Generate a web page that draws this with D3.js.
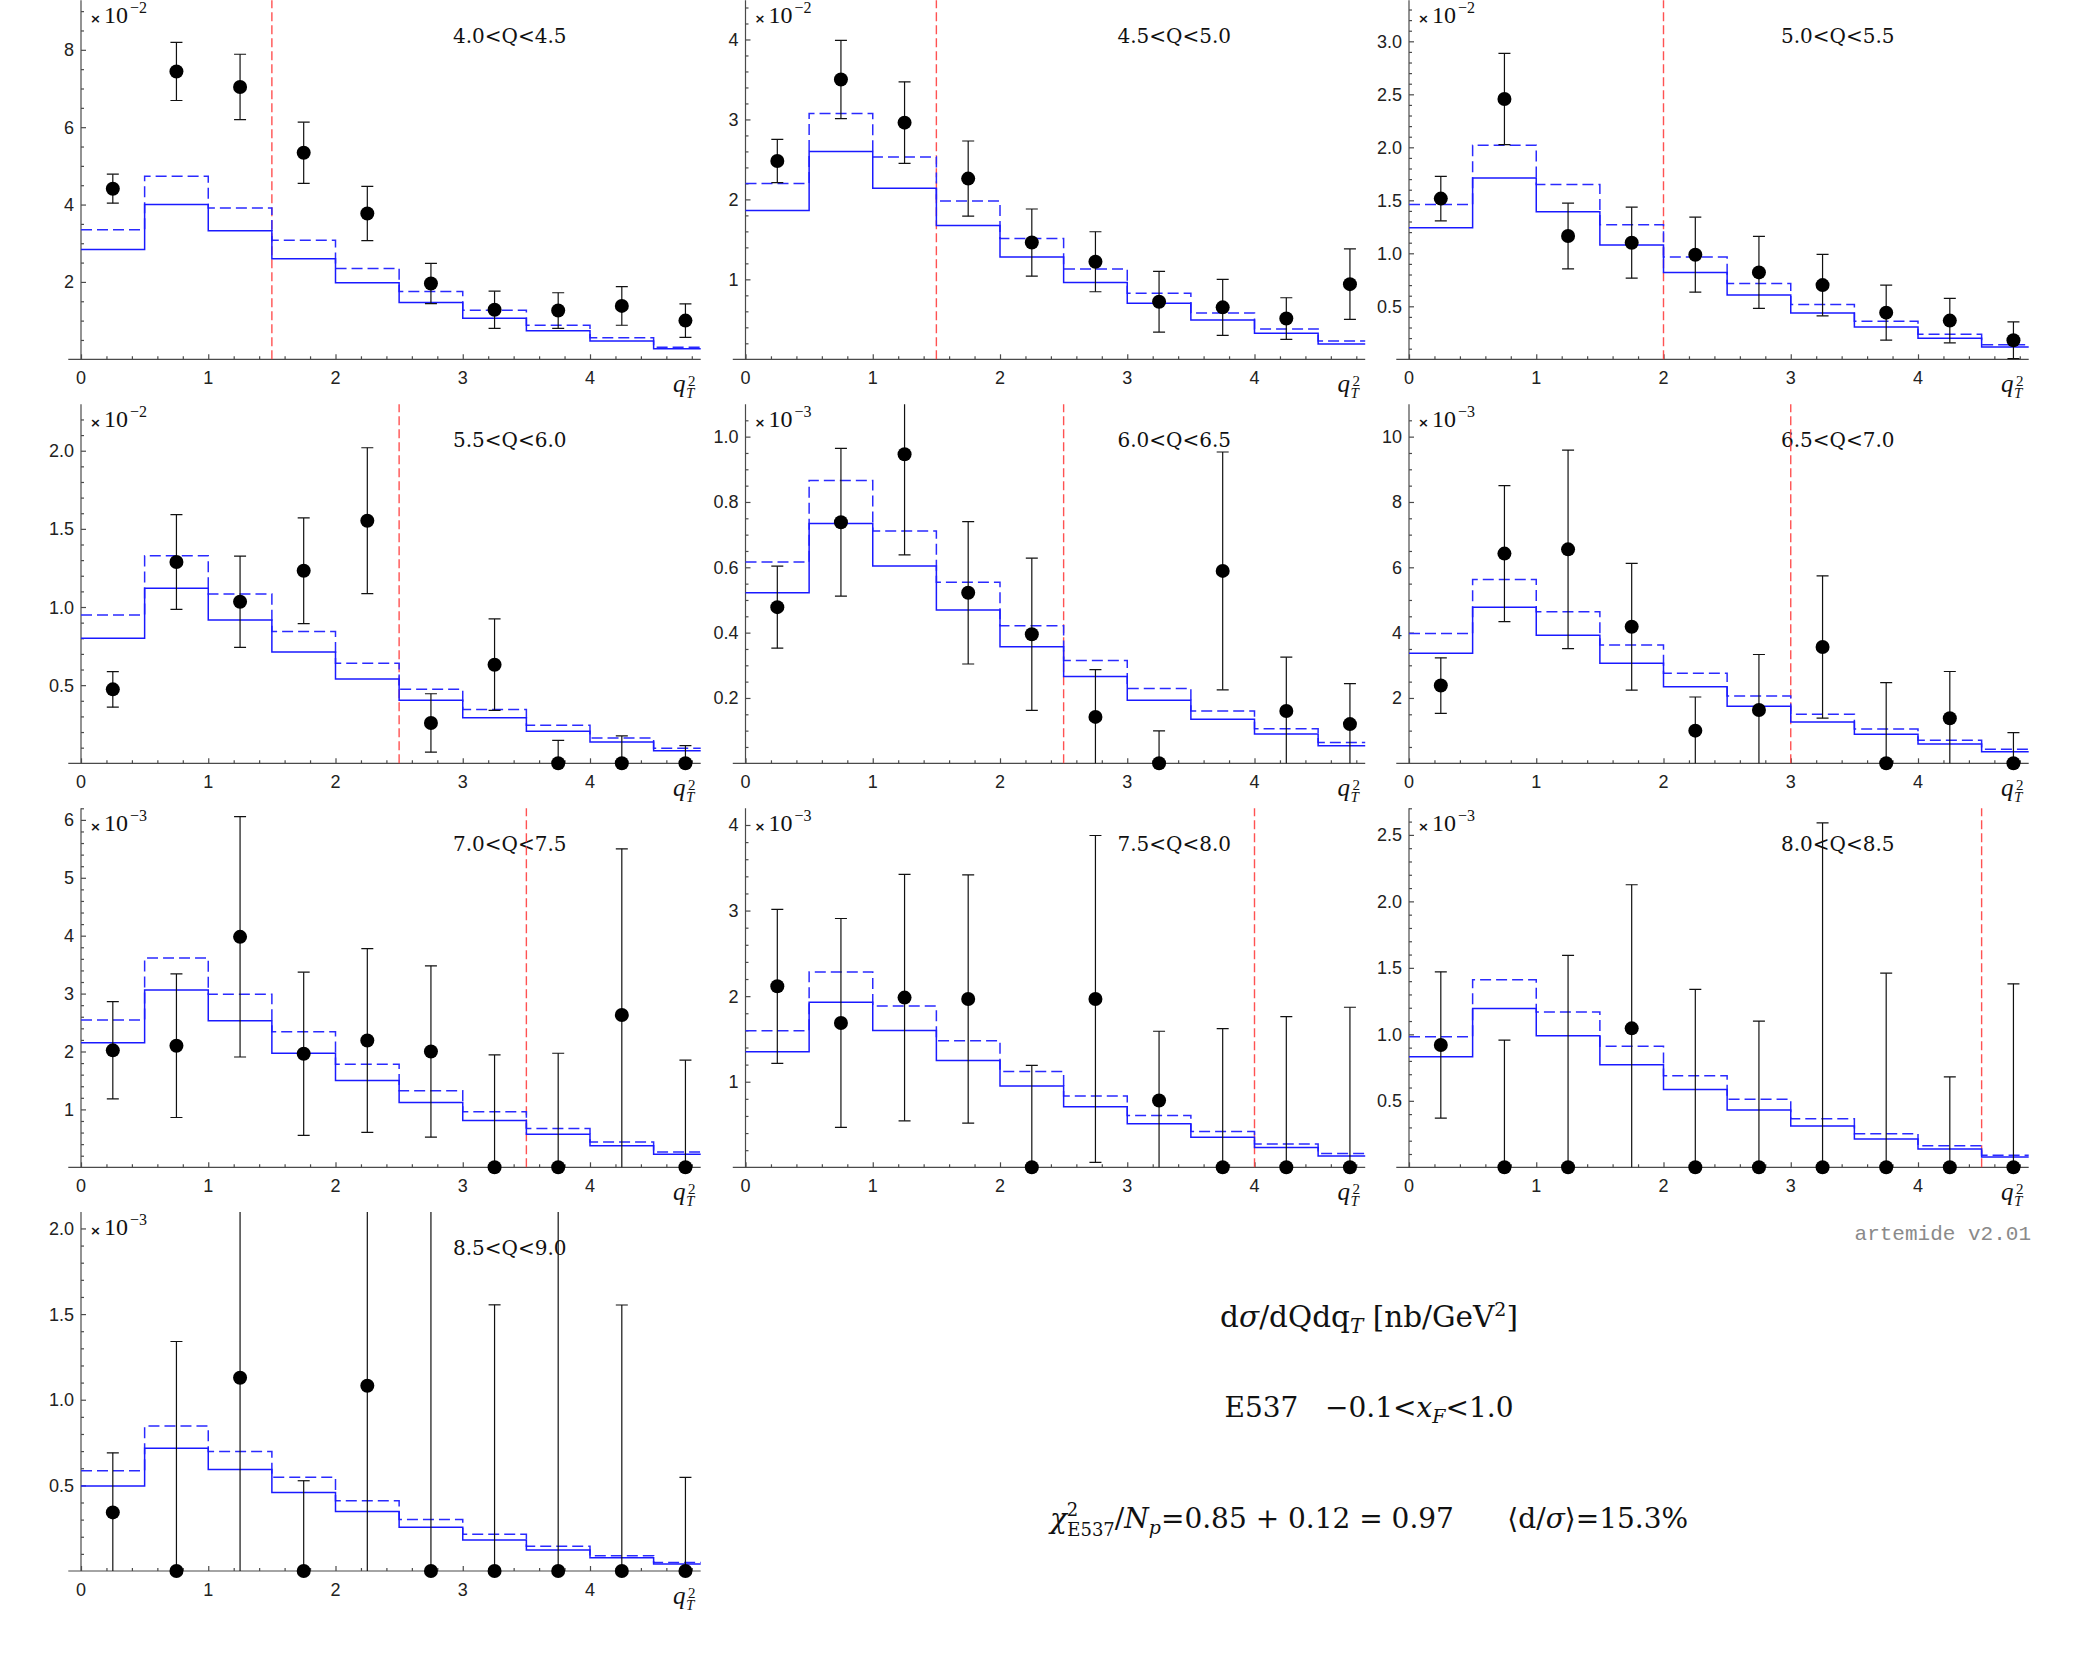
<!DOCTYPE html>
<html><head><meta charset="utf-8">
<script src="https://cdn.jsdelivr.net/npm/d3@7"></script>
<style>body{margin:0;background:#fff}svg{display:block}</style>
</head><body><svg id="chart" width="2084" height="1661"></svg>
<script>
// ---------------- data ----------------
const panelTitles = ["4.0<Q<4.5","4.5<Q<5.0","5.0<Q<5.5","5.5<Q<6.0","6.0<Q<6.5","6.5<Q<7.0","7.0<Q<7.5","7.5<Q<8.0","8.0<Q<8.5","8.5<Q<9.0"];
const qT2 = [0.25,0.75,1.25,1.75,2.25,2.75,3.25,3.75,4.25,4.75];
const binEdges = [0,0.5,1,1.5,2,2.5,3,3.5,4,4.5,5];
const exponents = [-2,-2,-2,-2,-3,-3,-3,-3,-3,-3];
const yRanges = [9.28,4.49,3.387,2.297,1.099,10.99,6.2,4.195,2.70,2.096];
const yTickValues = [[2,4,6,8],[1,2,3,4],[0.5,1,1.5,2,2.5,3],[0.5,1,1.5,2],[0.2,0.4,0.6,0.8,1.0],[2,4,6,8,10],[1,2,3,4,5,6],[1,2,3,4],[0.5,1,1.5,2,2.5],[0.5,1,1.5,2]];
const yMinorSteps = [0.5,0.2,0.1,0.1,0.05,0.5,0.2,0.2,0.1,0.1];
const xTickValues = [0,1,2,3,4];
const cutValues = [1.5,1.5,2.0,2.5,2.5,3.0,3.5,4.0,4.5,null];
const dataValues = [
 [4.41,7.44,7.04,5.34,3.77,1.96,1.28,1.26,1.38,1.00],
 [2.48,3.50,2.96,2.26,1.46,1.22,0.72,0.65,0.51,0.94],
 [1.516,2.456,1.163,1.10,0.987,0.82,0.70,0.44,0.365,0.18],
 [0.473,1.288,1.034,1.232,1.552,0.258,0.631,0,0,0],
 [0.478,0.738,0.946,0.522,0.395,0.142,0,0.589,0.16,0.12],
 [2.38,6.42,6.55,4.18,1.0,1.63,3.56,0,1.38,0],
 [2.02,2.10,3.98,1.96,2.19,2.0,0,0,2.63,0],
 [2.115,1.687,1.983,1.967,0,1.967,0.78,0,0,0],
 [0.92,0,0,1.045,0,0,0,0,0,0],
 [0.342,0,1.128,0,1.082,0,0,0,0,0]
];
const dataErrors = [
 [0.375,0.75,0.845,0.79,0.70,0.52,0.48,0.46,0.50,0.435],
 [0.27,0.49,0.51,0.47,0.42,0.375,0.38,0.35,0.26,0.44],
 [0.21,0.43,0.31,0.335,0.354,0.34,0.29,0.26,0.21,0.173],
 [0.114,0.303,0.292,0.338,0.467,0.187,0.293,0.147,0.175,0.113],
 [0.1255,0.226,0.308,0.218,0.233,0.145,0.099,0.364,0.165,0.124],
 [0.85,2.08,3.04,1.94,1.03,1.70,2.18,2.47,1.43,0.94],
 [0.84,1.24,2.075,1.41,1.586,1.48,1.94,1.97,2.87,1.85],
 [0.90,1.22,1.44,1.45,1.19,1.91,0.81,1.62,1.76,1.87],
 [0.55,0.957,1.594,1.08,1.338,1.10,2.59,1.46,0.68,1.38],
 [0.348,1.34,1.5,0.527,1.5,2.6,1.554,2.6,1.553,0.547]
];
const theorySolid = [
 [2.84,4.00,3.32,2.60,1.98,1.47,1.06,0.74,0.47,0.27],
 [1.86,2.60,2.14,1.675,1.28,0.96,0.70,0.49,0.325,0.19],
 [1.24,1.71,1.393,1.079,0.818,0.607,0.437,0.305,0.198,0.116],
 [0.80,1.12,0.917,0.712,0.539,0.403,0.292,0.205,0.136,0.081],
 [0.522,0.734,0.604,0.469,0.357,0.266,0.193,0.135,0.09,0.054],
 [3.37,4.78,3.92,3.06,2.34,1.745,1.265,0.888,0.592,0.357],
 [2.15,3.06,2.53,1.97,1.50,1.12,0.81,0.57,0.374,0.225],
 [1.35,1.93,1.60,1.247,0.95,0.709,0.51,0.35,0.23,0.132],
 [0.832,1.195,0.99,0.772,0.586,0.431,0.311,0.213,0.138,0.078],
 [0.496,0.716,0.593,0.459,0.348,0.255,0.181,0.123,0.078,0.041]
];
const theoryDashed = [
 [3.35,4.73,3.91,3.08,2.35,1.75,1.27,0.88,0.56,0.31],
 [2.20,3.075,2.53,1.98,1.51,1.13,0.825,0.58,0.38,0.23],
 [1.46,2.02,1.65,1.27,0.965,0.714,0.516,0.358,0.236,0.138],
 [0.949,1.328,1.083,0.844,0.64,0.473,0.345,0.243,0.162,0.096],
 [0.616,0.866,0.711,0.554,0.421,0.315,0.229,0.16,0.106,0.064],
 [3.97,5.63,4.64,3.62,2.755,2.06,1.50,1.05,0.704,0.43],
 [2.545,3.615,2.99,2.34,1.78,1.32,0.96,0.668,0.438,0.265],
 [1.597,2.283,1.885,1.48,1.12,0.834,0.604,0.417,0.273,0.16],
 [0.982,1.41,1.168,0.91,0.689,0.511,0.366,0.253,0.163,0.09],
 [0.586,0.846,0.698,0.547,0.41,0.30,0.214,0.144,0.089,0.05]
];
const xDomain = [-0.1, 4.87];

// ---------------- layout ----------------
const svg = d3.select("#chart");
const colX = [81, 745.5, 1409];
const rowY = [359.3, 763.3, 1167.3, 1571];
const unitX = 127.25;
const plotH = 359;
const axisColor = "#4a4a4a";
const tickFont = "Liberation Sans, Arial, sans-serif";
const defs = svg.append("defs");

panelTitles.forEach((title, p) => {
  const col = p % 3, row = Math.floor(p / 3);
  const ax = colX[col], ay = rowY[row];
  const x = d3.scaleLinear().domain(xDomain).range([ax + xDomain[0]*unitX, ax + xDomain[1]*unitX]);
  const y = d3.scaleLinear().domain([0, yRanges[p]]).range([ay, ay - plotH]);
  const g = svg.append("g");
  const clipId = "clip" + p;
  defs.append("clipPath").attr("id", clipId).append("rect")
    .attr("x", x(xDomain[0])).attr("y", y(yRanges[p]))
    .attr("width", x(xDomain[1]) - x(xDomain[0])).attr("height", plotH + 0.5);

  // x axis
  const xAxis = d3.axisTop(x).tickValues(xTickValues).tickSize(5).tickFormat("");
  const xg = g.append("g").attr("transform", `translate(0,${ay})`).call(xAxis);
  xg.select(".domain").attr("d", `M${x(xDomain[0])},0H${x(xDomain[1])}`);
  const xMinor = d3.range(0, 4.81, 0.2).filter(v => Math.abs(v - Math.round(v)) > 1e-6);
  g.append("g").attr("transform", `translate(0,${ay})`).call(d3.axisTop(x).tickValues(xMinor).tickSize(3).tickFormat(""))
    .select(".domain").remove();
  g.selectAll(".xlab").data(xTickValues).join("text")
    .attr("x", d => x(d)).attr("y", ay + 25).attr("text-anchor", "middle")
    .attr("font-family", tickFont).attr("font-size", 18).attr("fill", "#222")
    .text(d => d);

  // y axis
  const xz = x(0);
  const yAxis = d3.axisRight(y).tickValues(yTickValues[p]).tickSize(5).tickFormat("");
  const yg = g.append("g").attr("transform", `translate(${xz},0)`).call(yAxis);
  yg.select(".domain").attr("d", `M0,${ay}V${y(yRanges[p])}`);
  const step = yMinorSteps[p];
  const yMinor = d3.range(step, yRanges[p] + 1e-9, step).filter(v => !yTickValues[p].some(t => Math.abs(t - v) < 1e-6));
  g.append("g").attr("transform", `translate(${xz},0)`).call(d3.axisRight(y).tickValues(yMinor).tickSize(3).tickFormat(""))
    .select(".domain").remove();
  const fmt = (yTickValues[p][0] % 1 !== 0) ? d3.format(".1f") : d3.format("d");
  g.selectAll(".ylab").data(yTickValues[p]).join("text")
    .attr("x", xz - 7).attr("y", d => y(d) + 6.5).attr("text-anchor", "end")
    .attr("font-family", tickFont).attr("font-size", 18).attr("fill", "#222")
    .text(d => fmt(d));
  g.selectAll(".domain, .tick line").attr("stroke", axisColor).attr("stroke-width", 1.2);

  const top = y(yRanges[p]);
  // exponent label
  const ex = g.append("text").attr("x", xz + 9).attr("y", top + 23).attr("fill", "#111");
  ex.append("tspan").attr("font-family", "DejaVu Sans, sans-serif").attr("font-size", 13).attr("font-weight", "bold").text("×");
  ex.append("tspan").attr("dx", 3).attr("font-family", "Liberation Serif, serif").attr("font-size", 24).text("10");
  ex.append("tspan").attr("dx", 2).attr("dy", -10).attr("font-family", "Liberation Serif, serif").attr("font-size", 16).text("−" + Math.abs(exponents[p]));

  // title
  g.append("text").attr("x", xz + 372).attr("y", top + 43)
    .attr("font-family", "DejaVu Serif, serif").attr("font-size", 20).attr("fill", "#111").text(title);

  // q_T^2 label
  const ql = g.append("g").attr("font-family", "Liberation Serif, serif").attr("fill", "#111");
  ql.append("text").attr("x", xz + 592).attr("y", ay + 33).attr("font-size", 25).attr("font-style", "italic").text("q");
  ql.append("text").attr("x", xz + 607).attr("y", ay + 27).attr("font-size", 15).text("2");
  ql.append("text").attr("x", xz + 605).attr("y", ay + 39).attr("font-size", 15).attr("font-style", "italic").text("T");

  const clipped = g.append("g").attr("clip-path", `url(#${clipId})`);

  // red cut line
  if (cutValues[p] !== null) {
    clipped.append("line").attr("x1", x(cutValues[p])).attr("x2", x(cutValues[p]))
      .attr("y1", ay).attr("y2", top - 2)
      .attr("stroke", "#ff4040").attr("stroke-width", 1.4).attr("stroke-dasharray", "9,4").attr("opacity", 0.9);
  }

  // theory steps
  const stepLine = d3.line().x(d => x(d[0])).y(d => y(d[1])).curve(d3.curveStepAfter);
  const mk = arr => binEdges.map((e, i) => [e, arr[Math.min(i, arr.length - 1)]]);
  clipped.append("path").attr("d", stepLine(mk(theoryDashed[p]))).attr("fill", "none")
    .attr("stroke", "#2a2aff").attr("stroke-width", 1.5).attr("stroke-dasharray", "11,5");
  clipped.append("path").attr("d", stepLine(mk(theorySolid[p]))).attr("fill", "none")
    .attr("stroke", "#1a1aff").attr("stroke-width", 1.5);

  // error bars
  const pts = qT2.map((q, i) => ({q, v: dataValues[p][i], e: dataErrors[p][i]}));
  const eb = clipped.append("g").attr("stroke", "#111").attr("stroke-width", 1.2);
  pts.forEach(d => {
    const lo = d.v - d.e, hi = d.v + d.e;
    eb.append("line").attr("x1", x(d.q)).attr("x2", x(d.q)).attr("y1", y(Math.max(lo, 0))).attr("y2", y(Math.min(hi, yRanges[p] * 1.01)));
    [lo, hi].forEach(b => {
      if (b >= -1e-9 && b <= yRanges[p]) {
        eb.append("line").attr("x1", x(d.q) - 6).attr("x2", x(d.q) + 6).attr("y1", y(b)).attr("y2", y(b));
      }
    });
  });
  g.selectAll(".pt").data(pts).join("circle")
    .attr("cx", d => x(d.q)).attr("cy", d => y(d.v)).attr("r", 7).attr("fill", "#000");
});

// ---------------- annotations ----------------
svg.append("text").attr("x", 2031).attr("y", 1240).attr("text-anchor", "end")
  .attr("font-family", "Liberation Mono, DejaVu Sans Mono, monospace").attr("font-size", 21).attr("fill", "#8a8a8a")
  .text("artemide v2.01");

const cx = 1369;
const serif = "DejaVu Serif, serif";
const t1 = svg.append("text").attr("x", cx).attr("y", 1327).attr("text-anchor", "middle")
  .attr("font-family", serif).attr("font-size", 29.5).attr("fill", "#111");
t1.append("tspan").text("d");
t1.append("tspan").attr("font-style", "italic").text("σ");
t1.append("tspan").text("/dQdq");
t1.append("tspan").attr("font-style", "italic").attr("font-size", 20).attr("dy", 6).text("T");
t1.append("tspan").attr("dy", -6).text(" [nb/GeV");
t1.append("tspan").attr("font-size", 19).attr("dy", -11).text("2");
t1.append("tspan").attr("dy", 11).text("]");

const t2 = svg.append("text").attr("x", cx).attr("y", 1417).attr("text-anchor", "middle")
  .attr("font-family", serif).attr("font-size", 28).attr("fill", "#111").style("white-space", "pre");
t2.append("tspan").text("E537   −0.1<");
t2.append("tspan").attr("font-style", "italic").text("x");
t2.append("tspan").attr("font-style", "italic").attr("font-size", 19).attr("dy", 6).text("F");
t2.append("tspan").attr("dy", -6).text("<1.0");

const t3 = svg.append("text").attr("x", cx).attr("y", 1528).attr("text-anchor", "middle")
  .attr("font-family", serif).attr("font-size", 28).attr("fill", "#111").style("white-space", "pre");
t3.append("tspan").attr("font-style", "italic").text("χ");
t3.append("tspan").attr("font-size", 18).attr("dy", -12).text("2");
t3.append("tspan").attr("font-size", 18).attr("dx", -11).attr("dy", 20).text("E537");
t3.append("tspan").attr("dy", -8).text("/");
t3.append("tspan").attr("font-style", "italic").text("N");
t3.append("tspan").attr("font-style", "italic").attr("font-size", 19).attr("dy", 6).text("p");
t3.append("tspan").attr("dy", -6).text("=0.85 + 0.12 = 0.97      ⟨d/");
t3.append("tspan").attr("font-style", "italic").text("σ");
t3.append("tspan").text("⟩=15.3%");
</script></body></html>
